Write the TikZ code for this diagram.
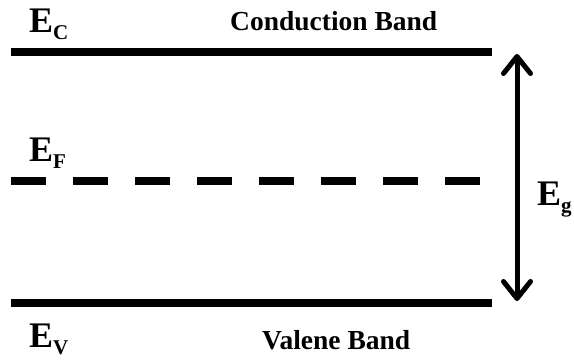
\documentclass[tikz,border=0pt]{standalone}
\usepackage{fontspec}
\setmainfont{Liberation Serif}
\usetikzlibrary{arrows.meta}
\newcommand{\elabel}[1]{{\fontsize{36}{36}\selectfont E}\raisebox{-7pt}{\fontsize{21}{21}\selectfont #1}}
\tikzset{
  band/.style={line width=8pt},
  fermi/.style={line width=8pt, dash pattern=on 35pt off 27pt},
  gaparrow/.style={line width=5pt, {Straight Barb[length=17pt,width=27pt,line join=round,line cap=round]}-{Straight Barb[length=17pt,width=27pt,line join=round,line cap=round]}},
  elab/.style={anchor=base west, inner sep=0pt, font=\bfseries},
  bandname/.style={anchor=base west, inner sep=0pt, font=\bfseries\fontsize{27.5}{28}\selectfont}
}
\begin{document}
\begin{tikzpicture}[x=1pt,y=-1pt]
\useasboundingbox (0,0) rectangle (574,360);
\coordinate (cL) at (11,52);
\coordinate (cR) at (492,52);
\coordinate (fL) at (11,181);
\coordinate (fR) at (492,181);
\coordinate (vL) at (11,303);
\coordinate (vR) at (492,303);
\coordinate (aT) at (517,54);
\coordinate (aB) at (517,301);
\draw[band] (cL) -- (cR);
\draw[fermi] (fL) -- (fR);
\draw[band] (vL) -- (vR);
\draw[gaparrow] (aB) -- (aT);
\node[elab] (ec) at (29,32) {\elabel{C}};
\node[elab] (ef) at (29,161) {\elabel{F}};
\node[elab] (ev) at (29,347) {\elabel{V}};
\node[elab] (eg) at (537,205) {\elabel{g}};
\node[bandname] (cb) at (230,30) {Conduction Band};
\node[bandname] (vb) at (262,349) {Valene Band};
\end{tikzpicture}
\end{document}
